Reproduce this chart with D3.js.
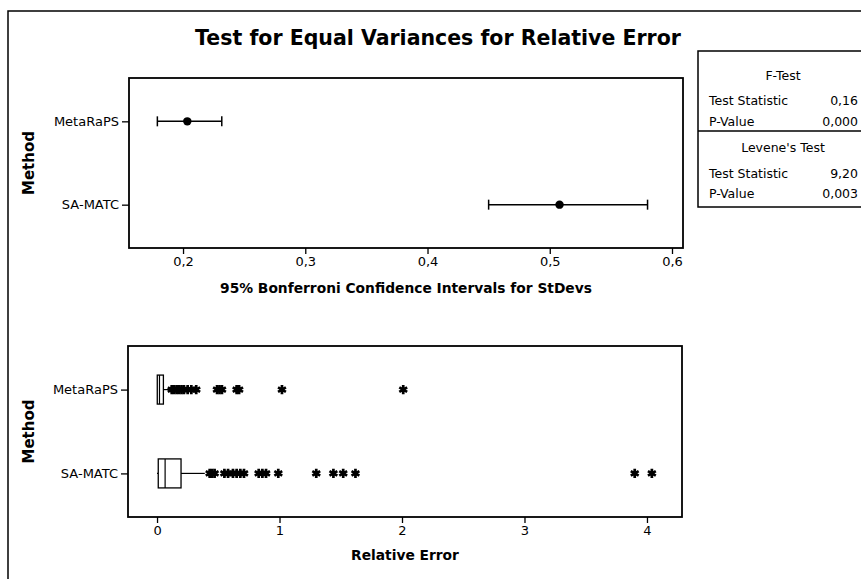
<!DOCTYPE html>
<html>
<head>
<meta charset="utf-8">
<script src="https://cdn.jsdelivr.net/npm/d3@7"></script>
<style>
  body { margin: 0; background: #fff; }
  text { font-family: "DejaVu Sans", Verdana, sans-serif; fill: #000; }
</style>
</head>
<body>
<svg id="drawing_region"></svg>
<script>
// values
const methods = ["MetaRaPS", "SA-MATC"];
const ciLower = [0.179, 0.450];
const ciCenter = [0.2035, 0.508];
const ciUpper = [0.2317, 0.580];

const boxQ1 = [0.002, 0.010];
const boxMedian = [0.02, 0.066];
const boxQ3 = [0.052, 0.196];
const whiskerLow = [0, 0];
const whiskerHigh = [0.106, 0.39];
const outliersMeta = [0.12, 0.14, 0.16, 0.18, 0.20, 0.22, 0.25, 0.28, 0.32, 0.49, 0.51, 0.53, 0.65, 0.67, 1.02, 2.01];
const outliersSa = [0.43, 0.45, 0.47, 0.55, 0.58, 0.62, 0.65, 0.68, 0.71, 0.83, 0.86, 0.89, 0.99, 1.30, 1.44, 1.52, 1.62, 3.90, 4.04];

const ciTicks = [0.2, 0.3, 0.4, 0.5, 0.6];
const errTicks = [0, 1, 2, 3, 4];

const fTestStat = "0,16", fTestP = "0,000";
const leveneStat = "9,20", leveneP = "0,003";

const W = 861, H = 579;
const svg = d3.select('#drawing_region')
    .attr('width', W)
    .attr('height', H);

const locale = d3.formatLocale({decimal: ",", thousands: ".", grouping: [3], currency: ["", ""]});

// outer frame
svg.append('path')
    .attr('d', `M8,${H} L8,11 L${W},11`)
    .attr('fill', 'none')
    .attr('stroke', '#000')
    .attr('stroke-width', 1.5);

svg.append('text')
    .attr('x', 438)
    .attr('y', 45)
    .attr('text-anchor', 'middle')
    .attr('font-size', '20.5px')
    .attr('font-weight', 'bold')
    .text('Test for Equal Variances for Relative Error');

function panel(cfg) {
    const g = svg.append('g')
        .attr('transform', `translate(${cfg.left}, ${cfg.top})`);

    const xscale = d3.scaleLinear()
        .domain(cfg.domain)
        .range([0, cfg.width]);
    const yscale = d3.scalePoint()
        .domain(methods)
        .range([0, cfg.height])
        .padding(0.52);

    const xaxis = d3.axisBottom(xscale)
        .tickValues(cfg.ticks)
        .tickSizeOuter(0)
        .tickSizeInner(6)
        .tickPadding(3)
        .tickFormat(cfg.format);
    const yaxis = d3.axisLeft(yscale)
        .tickSizeOuter(0)
        .tickSizeInner(7)
        .tickPadding(3);

    const xg = g.append('g')
        .attr('transform', `translate(0, ${cfg.height})`)
        .call(xaxis);
    const yg = g.append('g').call(yaxis);
    [xg, yg].forEach(a => {
        a.select('.domain').remove();
        a.selectAll('line').attr('stroke-width', 1.3);
        a.selectAll('text')
            .attr('font-family', '"DejaVu Sans", sans-serif')
            .attr('font-size', '13px');
    });

    g.append('rect')
        .attr('width', cfg.width)
        .attr('height', cfg.height)
        .attr('fill', 'none')
        .attr('stroke', '#000')
        .attr('stroke-width', 1.8);

    g.append('text')
        .attr('x', cfg.width / 2)
        .attr('y', cfg.height + cfg.labelGap)
        .attr('text-anchor', 'middle')
        .attr('font-size', '13.8px')
        .attr('font-weight', 'bold')
        .text(cfg.xlabel);

    g.append('text')
        .attr('transform', 'rotate(-90)')
        .attr('x', -cfg.height / 2)
        .attr('y', 34 - cfg.left)
        .attr('text-anchor', 'middle')
        .attr('font-size', '15px')
        .attr('font-weight', 'bold')
        .text('Method');

    return {g: g, xscale: xscale, yscale: yscale};
}

// --- top: confidence intervals
const ciPanel = panel({
    left: 129, top: 78, width: 554, height: 170,
    domain: [0.1558, 0.609], ticks: ciTicks,
    format: locale.format('.1f'),
    labelGap: 45,
    xlabel: '95% Bonferroni Confidence Intervals for StDevs'
});

methods.forEach((m, i) => {
    const y = ciPanel.yscale(m);
    const x0 = ciPanel.xscale(ciLower[i]), x1 = ciPanel.xscale(ciUpper[i]);
    ciPanel.g.append('line')
        .attr('x1', x0).attr('x2', x1)
        .attr('y1', y).attr('y2', y)
        .attr('stroke', '#000').attr('stroke-width', 1.5);
    [x0, x1].forEach(x => {
        ciPanel.g.append('line')
            .attr('x1', x).attr('x2', x)
            .attr('y1', y - 5).attr('y2', y + 5)
            .attr('stroke', '#000').attr('stroke-width', 1.5);
    });
    ciPanel.g.append('circle')
        .attr('cx', ciPanel.xscale(ciCenter[i]))
        .attr('cy', y)
        .attr('r', 4.2)
        .attr('fill', '#000');
});

// --- bottom: boxplots
const boxPanel = panel({
    left: 128, top: 346, width: 554, height: 171,
    domain: [-0.237, 4.286], ticks: errTicks,
    format: d3.format('d'),
    labelGap: 43,
    xlabel: 'Relative Error'
});

const outliers = [outliersMeta, outliersSa];
const star = d3.symbol().type(d3.symbolAsterisk).size(58);

methods.forEach((m, i) => {
    const y = boxPanel.yscale(m);
    const bh = 29;
    const x = boxPanel.xscale;

    boxPanel.g.append('line')
        .attr('x1', x(whiskerLow[i])).attr('x2', x(boxQ1[i]))
        .attr('y1', y).attr('y2', y)
        .attr('stroke', '#000').attr('stroke-width', 1.2);
    boxPanel.g.append('line')
        .attr('x1', x(boxQ3[i])).attr('x2', x(whiskerHigh[i]))
        .attr('y1', y).attr('y2', y)
        .attr('stroke', '#000').attr('stroke-width', 1.2);
    boxPanel.g.append('rect')
        .attr('x', x(boxQ1[i]))
        .attr('y', y - bh / 2)
        .attr('width', x(boxQ3[i]) - x(boxQ1[i]))
        .attr('height', bh)
        .attr('fill', '#fff')
        .attr('stroke', '#000')
        .attr('stroke-width', 1.3);
    boxPanel.g.append('line')
        .attr('x1', x(boxMedian[i])).attr('x2', x(boxMedian[i]))
        .attr('y1', y - bh / 2).attr('y2', y + bh / 2)
        .attr('stroke', '#000').attr('stroke-width', 1.2);

    boxPanel.g.selectAll(null)
        .data(outliers[i])
        .enter()
        .append('path')
        .attr('d', star)
        .attr('transform', d => `translate(${x(d)}, ${y})`)
        .attr('fill', 'none')
        .attr('stroke', '#000')
        .attr('stroke-width', 2.7);
});

// --- test results table
const tbl = svg.append('g').attr('transform', 'translate(698, 51)');
tbl.append('rect')
    .attr('width', 170).attr('height', 156)
    .attr('fill', 'none').attr('stroke', '#000').attr('stroke-width', 1.5);
tbl.append('line')
    .attr('x1', 0).attr('x2', 170)
    .attr('y1', 80).attr('y2', 80)
    .attr('stroke', '#000').attr('stroke-width', 1.3);

const rows = [
    {label: 'F-Test', y: 29, center: true},
    {label: 'Test Statistic', value: fTestStat, y: 54},
    {label: 'P-Value', value: fTestP, y: 75},
    {label: "Levene's Test", y: 101, center: true},
    {label: 'Test Statistic', value: leveneStat, y: 127},
    {label: 'P-Value', value: leveneP, y: 147}
];
rows.forEach(r => {
    tbl.append('text')
        .attr('x', r.center ? 85 : 11)
        .attr('y', r.y)
        .attr('text-anchor', r.center ? 'middle' : 'start')
        .attr('font-size', '12.5px')
        .text(r.label);
    if (r.value) {
        tbl.append('text')
            .attr('x', 160)
            .attr('y', r.y)
            .attr('text-anchor', 'end')
            .attr('font-size', '12.5px')
            .text(r.value);
    }
});
</script>
</body>
</html>
